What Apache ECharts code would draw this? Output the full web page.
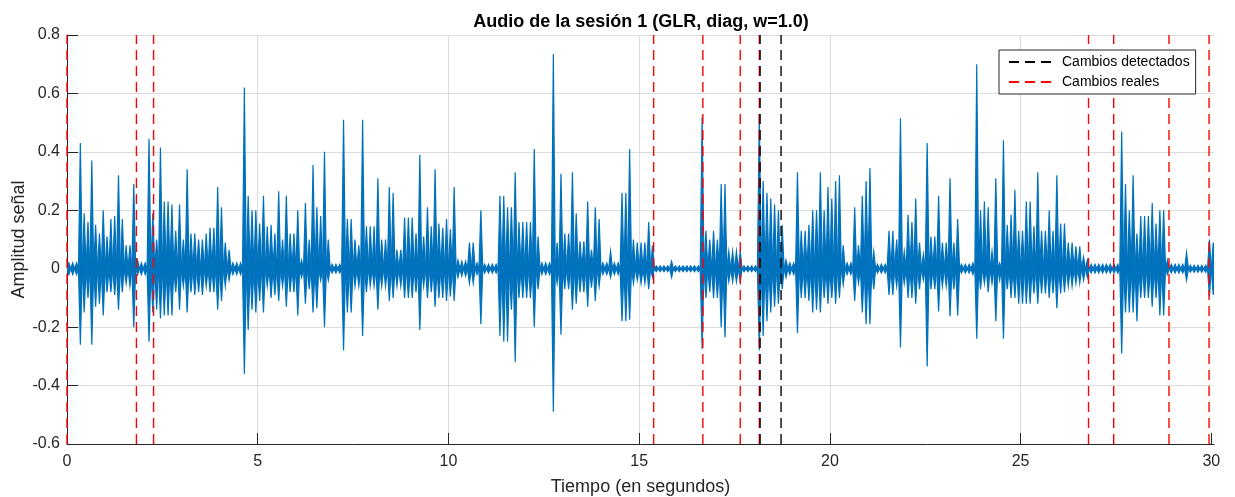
<!DOCTYPE html>
<html>
<head>
<meta charset="utf-8">
<script src="https://cdn.jsdelivr.net/npm/echarts@6/dist/echarts.min.js"></script>
<style>
html,body{margin:0;padding:0;background:#ffffff;}
#chart{width:1235px;height:497px;}
</style>
</head>
<body>
<div id="chart"></div>
<script>
// Waveform envelope: one bin every 0.1 s (bin i covers [0.1*i, 0.1*i+0.1))
const binWidth = 0.1;
const envHigh = [
  0.02, 0.02, 0.02, 0.43, 0.19, 0.16, 0.37, 0.15, 0.12, 0.20,
  0.11, 0.17, 0.18, 0.32, 0.17, 0.08, 0.08, 0.29, 0.03, 0.02,
  0.02, 0.445, 0.19, 0.10, 0.415, 0.23, 0.23, 0.22, 0.13, 0.22,
  0.10, 0.34, 0.12, 0.12, 0.10, 0.10, 0.12, 0.14, 0.14, 0.28,
  0.21, 0.09, 0.065, 0.02, 0.02, 0.02, 0.62, 0.25, 0.20, 0.20,
  0.155, 0.25, 0.145, 0.15, 0.12, 0.265, 0.10, 0.25, 0.12, 0.12,
  0.20, 0.03, 0.225, 0.10, 0.355, 0.21, 0.18, 0.40, 0.10, 0.015,
  0.015, 0.015, 0.51, 0.17, 0.17, 0.10, 0.08, 0.51, 0.145, 0.145,
  0.145, 0.31, 0.10, 0.10, 0.28, 0.26, 0.065, 0.065, 0.175, 0.175,
  0.175, 0.12, 0.39, 0.11, 0.21, 0.145, 0.34, 0.155, 0.14, 0.17,
  0.135, 0.28, 0.03, 0.025, 0.025, 0.09, 0.09, 0.02, 0.20, 0.015,
  0.015, 0.015, 0.015, 0.25, 0.25, 0.21, 0.21, 0.33, 0.16, 0.16,
  0.16, 0.16, 0.41, 0.11, 0.02, 0.02, 0.02, 0.735, 0.09, 0.325,
  0.12, 0.12, 0.33, 0.19, 0.094, 0.094, 0.23, 0.065, 0.21, 0.17,
  0.02, 0.02, 0.06, 0.02, 0.02, 0.26, 0.26, 0.41, 0.10, 0.09,
  0.09, 0.09, 0.16, 0.08, 0.01, 0.01, 0.01, 0.01, 0.025, 0.01,
  0.01, 0.01, 0.01, 0.01, 0.01, 0.01, 0.52, 0.13, 0.10, 0.13,
  0.10, 0.29, 0.29, 0.06, 0.06, 0.06, 0.06, 0.01, 0.01, 0.01,
  0.01, 0.53, 0.30, 0.26, 0.24, 0.22, 0.20, 0.15, 0.03, 0.02,
  0.02, 0.33, 0.13, 0.13, 0.15, 0.20, 0.20, 0.33, 0.20, 0.28,
  0.24, 0.30, 0.32, 0.08, 0.02, 0.02, 0.21, 0.08, 0.25, 0.30,
  0.345, 0.06, 0.015, 0.015, 0.015, 0.13, 0.13, 0.10, 0.515, 0.06,
  0.185, 0.16, 0.24, 0.09, 0.05, 0.43, 0.11, 0.11, 0.25, 0.09,
  0.09, 0.31, 0.09, 0.17, 0.015, 0.015, 0.015, 0.02, 0.70, 0.20,
  0.23, 0.21, 0.06, 0.31, 0.02, 0.44, 0.15, 0.185, 0.27, 0.13,
  0.13, 0.23, 0.23, 0.145, 0.33, 0.13, 0.13, 0.20, 0.13, 0.32,
  0.155, 0.155, 0.09, 0.09, 0.077, 0.077, 0.04, 0.03, 0.015, 0.015,
  0.015, 0.015, 0.015, 0.015, 0.015, 0.015, 0.47, 0.29, 0.20, 0.32,
  0.12, 0.18, 0.18, 0.18, 0.225, 0.155, 0.20, 0.20, 0.03, 0.015,
  0.015, 0.015, 0.015, 0.055, 0.012, 0.012, 0.012, 0.012, 0.012, 0.10,
  0.09
];
const envLow = [
  -0.02, -0.02, -0.02, -0.26, -0.15, -0.10, -0.26, -0.13, -0.12, -0.16,
  -0.08, -0.08, -0.09, -0.14, -0.08, -0.05, -0.06, -0.20, -0.02, -0.02,
  -0.02, -0.25, -0.15, -0.14, -0.17, -0.16, -0.16, -0.16, -0.08, -0.14,
  -0.06, -0.15, -0.08, -0.09, -0.08, -0.09, -0.06, -0.08, -0.08, -0.14,
  -0.11, -0.06, -0.04, -0.02, -0.02, -0.02, -0.36, -0.21, -0.14, -0.15,
  -0.11, -0.15, -0.06, -0.10, -0.09, -0.11, -0.06, -0.13, -0.08, -0.08,
  -0.16, -0.03, -0.12, -0.07, -0.15, -0.135, -0.04, -0.20, -0.04, -0.015,
  -0.015, -0.015, -0.28, -0.15, -0.15, -0.06, -0.06, -0.23, -0.08, -0.06,
  -0.06, -0.14, -0.06, -0.06, -0.11, -0.10, -0.06, -0.06, -0.10, -0.10,
  -0.10, -0.08, -0.21, -0.06, -0.10, -0.08, -0.13, -0.10, -0.10, -0.11,
  -0.095, -0.11, -0.03, -0.025, -0.025, -0.05, -0.05, -0.02, -0.19, -0.015,
  -0.015, -0.015, -0.015, -0.23, -0.25, -0.25, -0.14, -0.32, -0.10, -0.10,
  -0.10, -0.10, -0.20, -0.07, -0.02, -0.02, -0.02, -0.49, -0.05, -0.226,
  -0.07, -0.07, -0.14, -0.12, -0.08, -0.08, -0.13, -0.065, -0.11, -0.06,
  -0.02, -0.02, -0.03, -0.02, -0.02, -0.18, -0.18, -0.175, -0.05, -0.04,
  -0.05, -0.05, -0.07, -0.03, -0.01, -0.01, -0.01, -0.01, -0.03, -0.01,
  -0.01, -0.01, -0.01, -0.01, -0.01, -0.01, -0.275, -0.10, -0.08, -0.10,
  -0.10, -0.20, -0.235, -0.045, -0.045, -0.045, -0.045, -0.01, -0.01, -0.01,
  -0.01, -0.28, -0.23, -0.18, -0.15, -0.13, -0.12, -0.07, -0.03, -0.02,
  -0.02, -0.22, -0.10, -0.10, -0.11, -0.15, -0.14, -0.15, -0.10, -0.12,
  -0.10, -0.12, -0.10, -0.055, -0.02, -0.02, -0.11, -0.05, -0.15, -0.19,
  -0.19, -0.07, -0.015, -0.015, -0.015, -0.09, -0.09, -0.06, -0.27, -0.05,
  -0.10, -0.10, -0.12, -0.07, -0.04, -0.335, -0.07, -0.07, -0.146, -0.06,
  -0.06, -0.163, -0.07, -0.16, -0.015, -0.015, -0.015, -0.02, -0.24, -0.07,
  -0.05, -0.08, -0.05, -0.18, -0.04, -0.24, -0.07, -0.10, -0.10, -0.12,
  -0.12, -0.12, -0.12, -0.085, -0.12, -0.085, -0.085, -0.10, -0.085, -0.135,
  -0.085, -0.08, -0.06, -0.06, -0.05, -0.05, -0.04, -0.03, -0.015, -0.015,
  -0.015, -0.015, -0.015, -0.015, -0.015, -0.015, -0.29, -0.15, -0.15, -0.15,
  -0.18, -0.10, -0.10, -0.10, -0.13, -0.10, -0.16, -0.16, -0.02, -0.015,
  -0.015, -0.015, -0.015, -0.04, -0.012, -0.012, -0.012, -0.012, -0.012, -0.095,
  -0.09
];
// Change points (seconds)
const realChanges = [0, 1.82, 2.27, 15.38, 16.67, 17.65, 18.15, 26.78, 27.44, 28.89, 29.94];
const detectedChanges = [18.17, 18.72];
// Axes
const xTickLabels = [0, 5, 10, 15, 20, 25, 30];
const yTickLabels = [-0.6, -0.4, -0.2, 0, 0.2, 0.4, 0.6, 0.8];

const titleText = 'Audio de la sesión 1 (GLR, diag, w=1.0)';
const xName = 'Tiempo (en segundos)';
const yName = 'Amplitud señal';

const FONT = '"Liberation Sans", Arial, Helvetica, sans-serif';
const TXT = '#262626';
const BLUE = '#0072BD';

// one item per bin: [start time, max, min]
const bins = envHigh.map(function (h, i) { return [i * binWidth, h, envLow[i]]; });
const yMin = yTickLabels[0], yMax = yTickLabels[yTickLabels.length - 1];
function vlines(ts) {
  const d = [];
  ts.forEach(function (t) { d.push([t, yMin], [t, yMax], [t, '-']); });
  return d;
}

const chart = echarts.init(document.getElementById('chart'), null, {renderer: 'canvas'});
chart.setOption({
  animation: false,
  backgroundColor: '#ffffff',
  title: {
    text: titleText,
    left: 636, top: 8, textAlign: 'center',
    textStyle: {fontFamily: FONT, fontSize: 18, fontWeight: 'bold', color: '#000'}
  },
  grid: {left: 67, right: 21, top: 35, bottom: 53, containLabel: false, outerBoundsMode: 'none'},
  legend: {
    data: ['Cambios detectados', 'Cambios reales'],
    orient: 'vertical', left: 999, top: 50,
    padding: [5, 6, 5, 9], itemGap: 6, itemWidth: 48, itemHeight: 14,
    backgroundColor: '#ffffff', borderColor: '#262626', borderWidth: 1, borderRadius: 0,
    selectedMode: false,
    itemStyle: {opacity: 0, borderWidth: 0},
    textStyle: {fontFamily: FONT, fontSize: 14, color: '#000'}
  },
  xAxis: {
    type: 'value', min: 0, max: 30.07, interval: 5,
    name: xName, nameLocation: 'middle', nameGap: 34,
    nameTextStyle: {fontFamily: FONT, fontSize: 18, color: TXT},
    axisLine: {show: true, onZero: false, lineStyle: {color: TXT, width: 1}},
    axisTick: {show: true, inside: true, length: 11, customValues: xTickLabels, lineStyle: {color: TXT}},
    axisLabel: {
      fontFamily: FONT, fontSize: 16, color: TXT, margin: 10, customValues: xTickLabels,
      formatter: function (v) { return xTickLabels.indexOf(Math.round(v * 1000) / 1000) >= 0 ? String(v) : ''; }
    },
    splitLine: {show: true, showMaxLine: false, lineStyle: {color: '#dcdcdc', width: 1}}
  },
  yAxis: {
    type: 'value', min: yMin, max: yMax, interval: 0.2,
    name: yName, nameLocation: 'middle', nameGap: 39, nameRotate: 90, nameMoveOverlap: false,
    nameTextStyle: {fontFamily: FONT, fontSize: 18, color: TXT},
    axisLine: {show: true, lineStyle: {color: TXT, width: 1}},
    axisTick: {show: true, inside: true, length: 11, lineStyle: {color: TXT}},
    axisLabel: {
      fontFamily: FONT, fontSize: 16, color: TXT, margin: 7,
      formatter: function (v) { return String(Math.round(v * 10) / 10); }
    },
    splitLine: {show: true, lineStyle: {color: '#dcdcdc', width: 1}}
  },
  series: [
    {
      name: 'Señal', type: 'custom', data: bins, z: 2, clip: true,
      encode: {x: 0, y: [1, 2]},
      renderItem: function (params, api) {
        const t0 = api.value(0), h = api.value(1), l = api.value(2);
        const a = api.coord([t0, 0]);
        const b = api.coord([t0 + binWidth / 2, h]);
        const c = api.coord([t0 + binWidth, 0]);
        const d = api.coord([t0 + binWidth / 2, l]);
        return {
          type: 'polygon',
          shape: {points: [a, b, c, d]},
          style: {fill: BLUE, stroke: BLUE, lineWidth: 1.2}
        };
      }
    },
    {
      name: 'Cambios reales', type: 'line', data: vlines(realChanges), symbol: 'none', z: 3,
      connectNulls: false,
      lineStyle: {color: '#ff0000', width: 1.4, type: [10, 6]}, itemStyle: {color: '#ff0000'}
    },
    {
      name: 'Cambios detectados', type: 'line', data: vlines(detectedChanges), symbol: 'none', z: 4,
      connectNulls: false,
      lineStyle: {color: '#000000', width: 1.4, type: [10, 6]}, itemStyle: {color: '#000000'}
    }
  ]
});
</script>
</body>
</html>
